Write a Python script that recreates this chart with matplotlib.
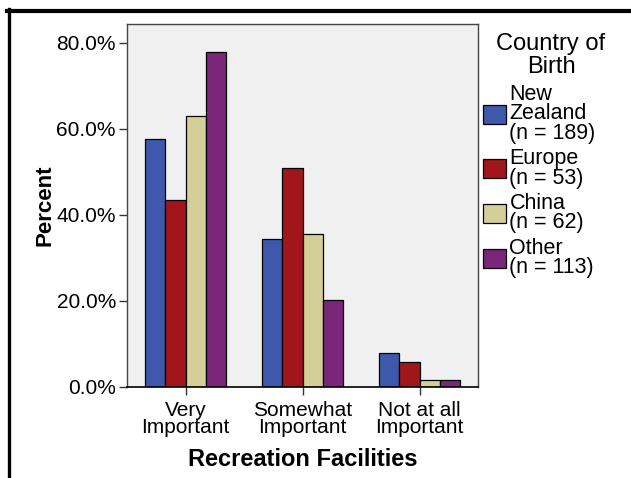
import matplotlib.pyplot as plt
from matplotlib.lines import Line2D
import numpy as np

plt.rcParams['font.family'] = ['Liberation Sans', 'DejaVu Sans']

categories = ['Very\nImportant', 'Somewhat\nImportant', 'Not at all\nImportant']
groups = ['New\nZealand\n(n = 189)', 'Europe\n(n = 53)', 'China\n(n = 62)', 'Other\n(n = 113)']
nz = [57.7, 34.3, 7.9]
europe = [43.4, 51.0, 5.7]
china = [62.9, 35.5, 1.6]
other = [78.0, 20.2, 1.7]
yticks = [0, 20, 40, 60, 80]

series = [nz, europe, china, other]
colors = ['#3E58AC', '#A1161B', '#D4CF99', '#7B2779']

W, H = 631, 478
fig = plt.figure(figsize=(W / 100, H / 100), dpi=100)
ax = fig.add_axes([127 / W, 1 - 387 / H, 351 / W, 363 / H])
ax.set_facecolor('#F0F0F0')

x = np.arange(len(categories))
bw = 0.174
bars = []
for i, (vals, c) in enumerate(zip(series, colors)):
    b = ax.bar(x + (i - 1.5) * bw, vals, bw, color=c, edgecolor='black', linewidth=0.9)
    bars.append(b)

ax.set_xlim(-0.5, 2.5)
ax.set_ylim(0, 84.4)
ax.set_yticks(yticks)
ax.set_yticklabels(['%.1f%%' % v for v in yticks])
ax.set_xticks(x)
ax.set_xticklabels(categories, linespacing=0.85)
ax.tick_params(axis='both', labelsize=15, length=6, width=1, color='#333333')
ax.tick_params(axis='y', pad=2)
ax.tick_params(axis='x', pad=4)
for s in ['left', 'top', 'right']:
    ax.spines[s].set_color('#444444')
    ax.spines[s].set_linewidth(1)
ax.spines['bottom'].set_color('black')
ax.spines['bottom'].set_linewidth(1.2)

ax.set_ylabel('Percent', fontsize=16, fontweight='bold', labelpad=0.5)
ax.set_xlabel('Recreation Facilities', fontsize=17, fontweight='bold', labelpad=8)

# legend title is placed on its own, as in the original
fig.text(551 / W, 1 - 33 / H, 'Country of\nBirth', fontsize=17, ha='center', va='top',
         linespacing=1.05, multialignment='center')
leg = ax.legend(bars, groups, loc='upper left',
                bbox_to_anchor=(483 / W, 1 - 84 / H), bbox_transform=fig.transFigure,
                frameon=False, fontsize=15.5,
                handlelength=1.05, handleheight=0.97, handletextpad=0.18,
                labelspacing=0.2, borderaxespad=0, borderpad=0)
for t in leg.get_texts():
    t.set_linespacing(0.9)

# outer frame lines
fig.add_artist(Line2D([8.5 / W, 8.5 / W], [0, 1 - 9 / H], color='black', linewidth=2.4, transform=fig.transFigure))
fig.add_artist(Line2D([7 / W, 1], [1 - 11 / H, 1 - 11 / H], color='black', linewidth=3, transform=fig.transFigure))

fig.savefig('out.png', dpi=100)
